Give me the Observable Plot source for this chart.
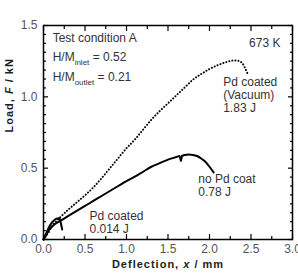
<!DOCTYPE html>
<html>
<head>
<meta charset="utf-8">
<script src="https://cdn.jsdelivr.net/npm/d3@7"></script>
<script src="https://cdn.jsdelivr.net/npm/@observablehq/plot@0.6"></script>
<style>
  html, body { margin: 0; padding: 0; background: white; }
</style>
</head>
<body>
<div id="chart"></div>
<script>
// ---- data ----
const vacuumX = [0, 0.05, 0.1, 0.15, 0.2, 0.3, 0.4, 0.5, 0.6, 0.7, 0.8, 0.9, 1.0, 1.1, 1.2, 1.3, 1.4, 1.5, 1.6, 1.7, 1.8, 1.9, 2.0, 2.1, 2.2, 2.3, 2.35, 2.4, 2.43, 2.46];
const vacuumY = [0, 0.04, 0.09, 0.125, 0.155, 0.21, 0.26, 0.31, 0.365, 0.43, 0.5, 0.57, 0.64, 0.70, 0.77, 0.84, 0.90, 0.955, 1.01, 1.065, 1.12, 1.16, 1.195, 1.222, 1.243, 1.255, 1.252, 1.232, 1.2, 1.16];

const noPdX = [0, 0.03, 0.07, 0.12, 0.2, 0.3, 0.4, 0.5, 0.6, 0.7, 0.8, 0.9, 1.0, 1.1, 1.2, 1.3, 1.4, 1.5, 1.6, 1.64, 1.655, 1.67, 1.7, 1.75, 1.8, 1.85, 1.9, 1.95, 2.0, 2.05];
const noPdY = [0, 0.03, 0.07, 0.1, 0.13, 0.165, 0.2, 0.235, 0.27, 0.305, 0.34, 0.375, 0.41, 0.44, 0.475, 0.51, 0.535, 0.56, 0.578, 0.586, 0.55, 0.588, 0.592, 0.595, 0.593, 0.585, 0.568, 0.545, 0.51, 0.47];

const pdX = [0, 0.03, 0.06, 0.09, 0.12, 0.15, 0.18, 0.195, 0.205, 0.215, 0.225];
const pdY = [0, 0.04, 0.08, 0.11, 0.13, 0.145, 0.149, 0.145, 0.125, 0.1, 0.07];

const xMajor = [0, 0.5, 1.0, 1.5, 2.0, 2.5, 3.0];
const xMinor = [0.25, 0.75, 1.25, 1.75, 2.25, 2.75];
const yMajor = [0, 0.5, 1.0, 1.5];
const yMinor = d3.range(0, 1.5001, 0.0625).filter(v => Math.abs(v * 2 - Math.round(v * 2)) > 1e-6);

const xTitle = "Deflection, *x* / mm";
const yTitle = "Load, *F* / kN";

// annotations
const annoText = ["Test condition A", "H/M_{inlet} = 0.52", "H/M_{outlet} = 0.21", "Pd coated", "(Vacuum)", "1.83 J", "no Pd coat", "0.78 J", "Pd coated", "0.014 J"];
const annoX = [0.11, 0.11, 0.11, 2.165, 2.165, 2.165, 1.864, 1.864, 0.554, 0.554];
const annoY = [1.41, 1.275, 1.135, 1.10, 1.009, 0.918, 0.42, 0.33, 0.166, 0.074];
const tempText = ["673 K"];
const tempX = [2.855];
const tempY = [1.374];

// ---- build tables ----
const vacuum = vacuumX.map((x, i) => ({x, y: vacuumY[i]}));
const noPd = noPdX.map((x, i) => ({x, y: noPdY[i]}));
const pd = pdX.map((x, i) => ({x, y: pdY[i]}));
const anno = annoText.map((t, i) => ({t, x: annoX[i], y: annoY[i]}));
const temp = tempText.map((t, i) => ({t, x: tempX[i], y: tempY[i]}));

const fmt = d3.format(".1f");
const tickColor = "#555555";
const txtColor = "#333333";

const chart = Plot.plot({
  width: 298,
  height: 275,
  marginLeft: 43,
  marginRight: 6,
  marginTop: 25,
  marginBottom: 36,
  style: {fontFamily: "'Liberation Sans', Arial, sans-serif", fontSize: "12px", background: "white"},
  x: {domain: [0, 3], label: null},
  y: {domain: [0, 1.5], label: null},
  marks: [
    // inward ticks, all four sides
    Plot.axisX(xMajor, {anchor: "bottom", tickSize: -5, tickFormat: () => "", label: null, strokeWidth: 1.2}),
    Plot.axisX(xMinor, {anchor: "bottom", tickSize: -3, tickFormat: () => "", label: null, strokeWidth: 1.2}),
    Plot.axisX(xMajor, {anchor: "top", tickSize: -5, tickFormat: () => "", label: null, strokeWidth: 1.2}),
    Plot.axisX(xMinor, {anchor: "top", tickSize: -3, tickFormat: () => "", label: null, strokeWidth: 1.2}),
    Plot.axisY(yMajor, {anchor: "left", tickSize: -5, tickFormat: () => "", label: null, strokeWidth: 1.2}),
    Plot.axisY(yMinor, {anchor: "left", tickSize: -3, tickFormat: () => "", label: null, strokeWidth: 1.2}),
    Plot.axisY(yMajor, {anchor: "right", tickSize: -5, tickFormat: () => "", label: null, strokeWidth: 1.2}),
    Plot.axisY(yMinor, {anchor: "right", tickSize: -3, tickFormat: () => "", label: null, strokeWidth: 1.2}),
    // tick labels
    Plot.axisX(xMajor, {anchor: "bottom", tickSize: 0, tickPadding: 5, tickFormat: fmt, label: null, fill: tickColor, fontSize: 12, style: "letter-spacing:0.5px"}),
    Plot.axisY(yMajor, {anchor: "left", tickSize: 0, tickPadding: 6, tickFormat: fmt, label: null, fill: tickColor, fontSize: 12, style: "letter-spacing:0.5px"}),
    // curves
    Plot.line(vacuum, {x: "x", y: "y", stroke: "black", strokeWidth: 2, strokeDasharray: "0.1,3", strokeLinecap: "round", curve: "monotone-x"}),
    Plot.line(noPd, {x: "x", y: "y", stroke: "black", strokeWidth: 2, curve: "monotone-x"}),
    Plot.line(pd, {x: "x", y: "y", stroke: "black", strokeWidth: 2, curve: "monotone-x"}),
    Plot.frame({stroke: "black", strokeWidth: 1.5}),
    // annotations
    Plot.text(anno, {x: "x", y: "y", text: "t", textAnchor: "start", lineAnchor: "middle", fill: txtColor, fontSize: 12, style: "letter-spacing:0.4px"}),
    Plot.text(temp, {x: "x", y: "y", text: "t", textAnchor: "end", lineAnchor: "middle", fill: txtColor, fontSize: 12, style: "letter-spacing:0.4px"}),
    // axis titles
    Plot.text([xTitle], {text: d => d, frameAnchor: "bottom", dy: 25, lineAnchor: "middle", fontWeight: "bold", fontSize: 11, fill: "#222"}),
    Plot.text([yTitle], {text: d => d, frameAnchor: "left", dx: -34, rotate: -90, lineAnchor: "middle", fontWeight: "bold", fontSize: 11, fill: "#222"})
  ]
});

// rich text: _{sub} subscripts and *italic*
function rich(el) {
  const s = el.textContent;
  if (!/_\{|\*/.test(s)) return;
  el.textContent = "";
  let shifted = false;
  s.split(/(_\{[^}]*\}|\*[^*]*\*)/g).forEach(part => {
    if (!part) return;
    const ts = document.createElementNS("http://www.w3.org/2000/svg", "tspan");
    if (part.startsWith("_{")) {
      ts.textContent = part.slice(2, -1);
      ts.setAttribute("font-size", "8");
      ts.setAttribute("dy", "4");
      shifted = true;
    } else {
      if (part.startsWith("*")) {
        ts.textContent = part.slice(1, -1);
        ts.setAttribute("font-style", "italic");
      } else {
        ts.textContent = part;
      }
      if (shifted) { ts.setAttribute("dy", "-4"); shifted = false; }
    }
    el.appendChild(ts);
  });
}
chart.querySelectorAll("text, tspan").forEach(el => {
  if (el.children.length === 0) rich(el);
});
chart.querySelectorAll("text").forEach(el => {
  const s = el.textContent;
  if (s.startsWith("Deflection") || s.startsWith("Load")) el.setAttribute("letter-spacing", "1");
});

document.getElementById("chart").appendChild(chart);
</script>
</body>
</html>
